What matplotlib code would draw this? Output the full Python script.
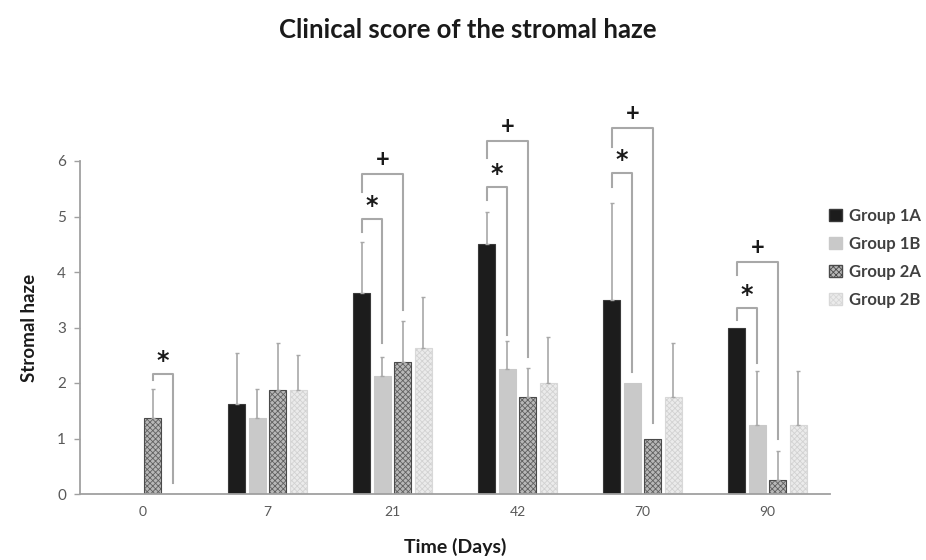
import numpy as np
import matplotlib.pyplot as plt
from matplotlib.patches import Patch
from matplotlib.colors import to_rgba

days = ["0", "7", "21", "42", "70", "90"]
groups = ["Group 1A", "Group 1B", "Group 2A", "Group 2B"]

# mean scores and error (upper) per group
mean_1a = [0, 1.625, 3.625, 4.5, 3.5, 3.0]
mean_1b = [0, 1.375, 2.125, 2.25, 2.0, 1.25]
mean_2a = [1.375, 1.875, 2.375, 1.75, 1.0, 0.25]
mean_2b = [0, 1.875, 2.625, 2.0, 1.75, 1.25]
err_1a = [0, 0.92, 0.92, 0.58, 1.74, 0]
err_1b = [0, 0.52, 0.35, 0.5, 0, 0.96]
err_2a = [0.52, 0.85, 0.75, 0.52, 0, 0.52]
err_2b = [0, 0.63, 0.92, 0.82, 0.97, 0.96]

# significance brackets: (day index, left group, right group, top, left leg end, right leg end, sign)
brackets = [
    (0, 2, 3, 2.16, 2.05, 0.2, "*"),
    (2, 0, 1, 4.95, 4.72, 2.72, "*"),
    (2, 0, 2, 5.77, 5.44, 3.32, "+"),
    (3, 0, 1, 5.53, 5.3, 2.86, "*"),
    (3, 0, 2, 6.36, 6.05, 2.47, "+"),
    (4, 0, 1, 5.78, 5.53, 2.2, "*"),
    (4, 0, 2, 6.6, 6.25, 1.28, "+"),
    (5, 0, 1, 3.35, 3.13, 2.36, "*"),
    (5, 0, 2, 4.18, 3.95, 1.0, "+"),
]

plt.rcParams['font.family'] = ['Lato', 'DejaVu Sans']
plt.rcParams['hatch.linewidth'] = 0.6

fig = plt.figure(figsize=(9.26, 5.6), dpi=100)
ax = fig.add_axes([80/926, 1-494/560, 750/926, 333/560])

means = [mean_1a, mean_1b, mean_2a, mean_2b]
errs = [err_1a, err_1b, err_2a, err_2b]
faces = ['#1c1c1c', '#c9c9c9', '#b8b8b8', '#ebebeb']
edges = ['#3a3a3a', '#c9c9c9', '#4a4a4a', '#d8d8d8']
hatches = [None, None, 'xxxxxx', 'xxxxxx']
hatch_cols = [None, None, '#606060', '#d2d2d2']

x = np.arange(len(days))
step = 0.163
width = 0.136
offsets = (np.arange(4) - 1.5) * step

for i in range(4):
    bars = ax.bar(x + offsets[i], means[i], width, color=faces[i],
                  edgecolor=edges[i], linewidth=0.8, hatch=hatches[i],
                  label=groups[i], zorder=2)
    if hatches[i]:
        for b in bars:
            b._hatch_color = to_rgba(hatch_cols[i])
    e = np.array(errs[i])
    m = np.array(means[i])
    show = e > 0
    ax.errorbar((x + offsets[i])[show], m[show], yerr=[np.zeros(show.sum()), e[show]],
                fmt='none', ecolor='#a8a8a8', elinewidth=1.2, capsize=1.5,
                capthick=1.0, zorder=3)

for d, g1, g2, top, lend, rend, sign in brackets:
    xl = x[d] + offsets[g1]
    xr = x[d] + offsets[g2]
    ax.plot([xl, xl, xr, xr], [lend, top, top, rend], color='#a8a8a8',
            lw=1.5, clip_on=False, zorder=4)
    if sign == "*":
        ax.text((xl + xr) / 2, top + 0.02, sign, ha='center', va='bottom',
                fontsize=17, fontweight='bold', color='#1a1a1a', clip_on=False,
                family='DejaVu Sans')
    else:
        ax.text((xl + xr) / 2, top + 0.05, sign, ha='center', va='bottom',
                fontsize=17, fontweight='bold', color='#1a1a1a', clip_on=False)

ax.set_xlim(-0.5, 5.5)
ax.set_ylim(0, 6)
ax.set_xticks(x)
ax.set_xticklabels(days)
ax.set_yticks(range(7))
ax.tick_params(axis='x', length=0, colors='#595959', labelsize=10, pad=9)
ax.tick_params(axis='y', length=4, width=1, color='#a0a0a0', colors='#595959',
               labelsize=11, pad=6)
ax.tick_params(axis='y', color='#a0a0a0')
for s in ['top', 'right']:
    ax.spines[s].set_visible(False)
for s in ['left', 'bottom']:
    ax.spines[s].set_color('#a0a0a0')
    ax.spines[s].set_linewidth(1.3)

ax.set_xlabel("Time (Days)", fontsize=14, fontweight='bold', color='#1a1a1a', labelpad=14)
ax.set_ylabel("Stromal haze", fontsize=13.5, fontweight='bold', color='#1a1a1a', labelpad=14)
fig.text(468/926, 1-30/560, "Clinical score of the stromal haze", ha='center',
         va='center', fontsize=18.5, fontweight='bold', color='#1a1a1a')

handles = [Patch(facecolor=faces[i], edgecolor=edges[i], hatch=hatches[i]) for i in range(4)]
leg = ax.legend(handles, groups, loc='upper left', bbox_to_anchor=(814/926, 1-193/560),
                bbox_transform=fig.transFigure, frameon=False, fontsize=12,
                handlelength=0.75, handleheight=0.75, handletextpad=0.45, labelspacing=0.72)
for t in leg.get_texts():
    t.set_color('#404040')
    t.set_fontweight('bold')

fig.savefig("out.png", dpi=100)
